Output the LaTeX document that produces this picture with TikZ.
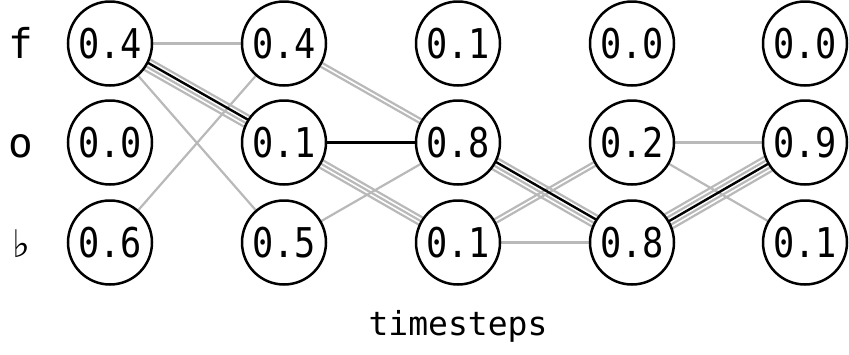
\documentclass[tikz,border=0pt]{standalone}
\usepackage{fontspec}
\setmainfont{DejaVu Sans Mono}
\newfontfamily\flatfont{DejaVu Sans}
\newfontfamily\numfont[FakeStretch=0.86]{DejaVu Sans Mono}
\usetikzlibrary{calc,backgrounds}
\definecolor{pathgrey}{RGB}{185,185,185}
\begin{document}
\begin{tikzpicture}[x=1pt,y=-1pt,
  prob/.style={circle, draw=black, line width=2.5pt, fill=white,
    minimum size=84pt, inner sep=0pt, font=\numfont\fontsize{41}{41}\selectfont},
  sym/.style={anchor=base, inner sep=0pt, font=\fontsize{41}{41}\selectfont},
  gline/.style={pathgrey, line width=2.2pt},
  bline/.style={black, line width=2.4pt}]
\useasboundingbox (0,0) rectangle (849,354);

% symbol labels of the rows
\node[sym] (lf) at (21,58) {f};
\node[sym] (lo) at (21,157) {o};
\node[sym] (lb) at (21,257) {\flatfont\fontsize{38}{38}\selectfont ♭};

% probabilities per timestep
\node[prob] (f1) at (110,43.5) {0.4};
\node[prob] (o1) at (110,142.5) {0.0};
\node[prob] (b1) at (110,242.5) {0.6};
\node[prob] (f2) at (284,43.5) {0.4};
\node[prob] (o2) at (284,142.5) {0.1};
\node[prob] (b2) at (284,242.5) {0.5};
\node[prob] (f3) at (458,43.5) {0.1};
\node[prob] (o3) at (458,142.5) {0.8};
\node[prob] (b3) at (458,242.5) {0.1};
\node[prob] (f4) at (632,43.5) {0.0};
\node[prob] (o4) at (632,142.5) {0.2};
\node[prob] (b4) at (632,242.5) {0.8};
\node[prob] (f5) at (805,43.5) {0.0};
\node[prob] (o5) at (805,142.5) {0.9};
\node[prob] (b5) at (805,242.5) {0.1};

\node[anchor=base, inner sep=0pt, font=\fontsize{33}{33}\selectfont] (ts) at (458,335) {timesteps};

% alignment paths, each one offset sideways from the centre line
\begin{scope}[on background layer]
  \fill[white] (0,0) rectangle (849,354);
  \foreach \a/\b/\d in {
      f1/f2/0pt, f1/b2/0pt, b1/f2/0pt,
      f1/o2/6pt, f1/o2/-2pt, f1/o2/-6pt,
      f2/o3/2pt, f2/o3/-2pt, b2/o3/0pt,
      o2/b3/4pt, o2/b3/0pt, o2/b3/-4pt,
      o3/b4/6pt, o3/b4/-2pt, o3/b4/-6pt,
      b3/o4/2pt, b3/o4/-2pt, b3/b4/0pt,
      o4/o5/0pt, o4/b5/0pt,
      b4/o5/8pt, b4/o5/4pt, b4/o5/-4pt, b4/o5/-8pt}
    \draw[gline] ($(\a)!\d!90:(\b)$) -- ($(\b)!\d!-90:(\a)$);
  \foreach \a/\b/\d in {f1/o2/2pt, o2/o3/0pt, o3/b4/2pt, b4/o5/0pt}
    \draw[bline] ($(\a)!\d!90:(\b)$) -- ($(\b)!\d!-90:(\a)$);
\end{scope}
\end{tikzpicture}
\end{document}
